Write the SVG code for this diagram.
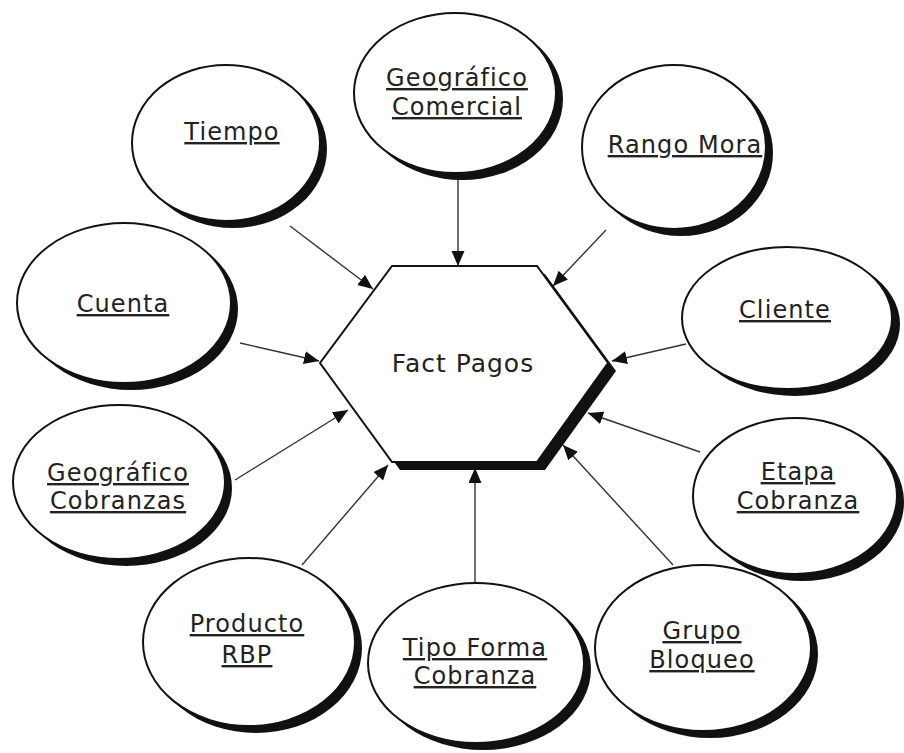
<svg xmlns="http://www.w3.org/2000/svg" width="904" height="753" viewBox="0 0 904 753">
  <defs>
    <style>
      .shadow { fill: #111; }
      .body { fill: #fff; stroke: #111; stroke-width: 2; }
      .label { font-family: "DejaVu Sans", Verdana, sans-serif; font-size: 24px; letter-spacing: 1.1px; fill: #222; text-anchor: middle; text-decoration: underline; }
      .title { font-family: "DejaVu Sans", Verdana, sans-serif; font-size: 25px; letter-spacing: 1px; fill: #222; text-anchor: middle; }
      .link { stroke: #333; stroke-width: 1.4; fill: none; marker-end: url(#head); }
    </style>
    <marker id="head" markerUnits="userSpaceOnUse" markerWidth="16" markerHeight="14" refX="15" refY="6.5" orient="auto">
      <path d="M0,0 L15,6.5 L0,13 z" fill="#111"/>
    </marker>
  </defs>
  <rect width="904" height="753" fill="#fff"/>

  <!-- connectors: every dimension points at the fact table -->
  <g id="connectors">
    <line class="link" x1="290" y1="226" x2="373" y2="289"/>
    <line class="link" x1="458" y1="176" x2="458" y2="266"/>
    <line class="link" x1="606" y1="230" x2="553" y2="286"/>
    <line class="link" x1="240" y1="343" x2="319" y2="361"/>
    <line class="link" x1="686" y1="344" x2="612" y2="361"/>
    <line class="link" x1="235" y1="480" x2="348" y2="410"/>
    <line class="link" x1="700" y1="452" x2="588" y2="413"/>
    <line class="link" x1="302" y1="565" x2="388" y2="465"/>
    <line class="link" x1="475" y1="582" x2="475" y2="468"/>
    <line class="link" x1="673" y1="565" x2="563" y2="445"/>
  </g>

  <!-- fact table -->
  <g id="fact-pagos">
    <polygon class="shadow" points="400,274 545,274 616,371 545,470 400,470 328,371"/>
    <polygon class="body" points="392,266 537,266 608,363 537,462 392,462 320,363"/>
    <text class="title" x="463" y="372">Fact Pagos</text>
  </g>

  <!-- dimensions -->
  <g id="tiempo">
    <ellipse class="shadow" cx="233" cy="149" rx="94" ry="79"/>
    <ellipse class="body" cx="226" cy="143" rx="94" ry="78"/>
    <text class="label" x="232" y="140">Tiempo</text>
  </g>
  <g id="geografico-comercial">
    <ellipse class="shadow" cx="462" cy="99" rx="101" ry="81"/>
    <ellipse class="body" cx="455" cy="93" rx="101" ry="80"/>
    <text class="label" x="457" y="86">Geográfico</text>
    <text class="label" x="457" y="115">Comercial</text>
  </g>
  <g id="rango-mora">
    <ellipse class="shadow" cx="681" cy="153" rx="92" ry="83"/>
    <ellipse class="body" cx="674" cy="147" rx="92" ry="82"/>
    <text class="label" x="685" y="153">Rango Mora</text>
  </g>
  <g id="cuenta">
    <ellipse class="shadow" cx="131" cy="309" rx="107" ry="81"/>
    <ellipse class="body" cx="124" cy="303" rx="107" ry="80"/>
    <text class="label" x="123" y="312">Cuenta</text>
  </g>
  <g id="cliente">
    <ellipse class="shadow" cx="795" cy="324" rx="105" ry="72"/>
    <ellipse class="body" cx="787" cy="318" rx="105" ry="71"/>
    <text class="label" x="785" y="318">Cliente</text>
  </g>
  <g id="geografico-cobranzas">
    <ellipse class="shadow" cx="126" cy="488" rx="106" ry="78"/>
    <ellipse class="body" cx="119" cy="482" rx="106" ry="77"/>
    <text class="label" x="118" y="481">Geográfico</text>
    <text class="label" x="118" y="509">Cobranzas</text>
  </g>
  <g id="etapa-cobranza">
    <ellipse class="shadow" cx="802" cy="502" rx="102" ry="79"/>
    <ellipse class="body" cx="795" cy="496" rx="102" ry="78"/>
    <text class="label" x="798" y="480">Etapa</text>
    <text class="label" x="798" y="509">Cobranza</text>
  </g>
  <g id="producto-rbp">
    <ellipse class="shadow" cx="256" cy="648" rx="106" ry="85"/>
    <ellipse class="body" cx="249" cy="642" rx="106" ry="84"/>
    <text class="label" x="247" y="632">Producto</text>
    <text class="label" x="247" y="663">RBP</text>
  </g>
  <g id="tipo-forma-cobranza">
    <ellipse class="shadow" cx="483" cy="669" rx="108" ry="81"/>
    <ellipse class="body" cx="476" cy="663" rx="108" ry="80"/>
    <text class="label" x="475" y="656">Tipo Forma</text>
    <text class="label" x="475" y="684">Cobranza</text>
  </g>
  <g id="grupo-bloqueo">
    <ellipse class="shadow" cx="710" cy="654" rx="108" ry="84"/>
    <ellipse class="body" cx="703" cy="648" rx="108" ry="83"/>
    <text class="label" x="702" y="639">Grupo</text>
    <text class="label" x="702" y="668">Bloqueo</text>
  </g>
</svg>
